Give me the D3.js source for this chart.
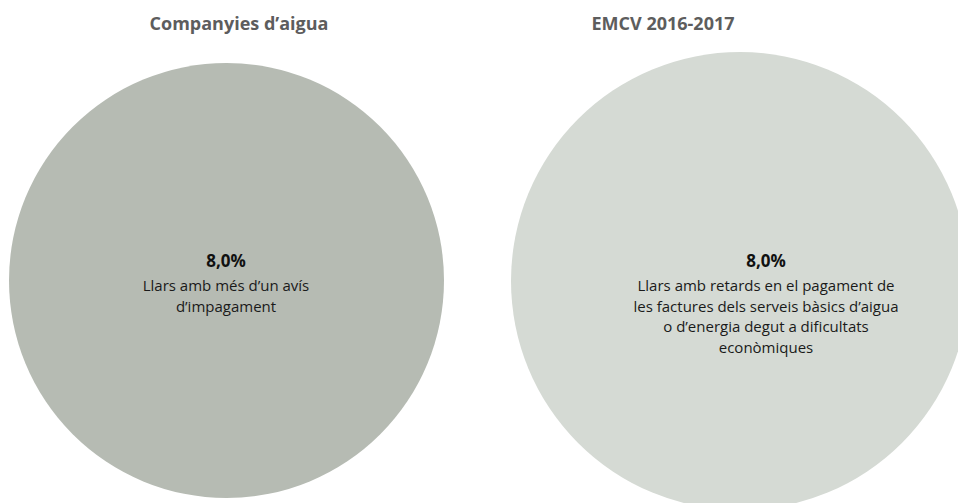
<!DOCTYPE html>
<html>
<head>
<meta charset="utf-8">
<script src="https://cdn.jsdelivr.net/npm/d3@7"></script>
<style>
  body { margin: 0; background: #fff; }
  svg { display: block; }
</style>
</head>
<body>
<svg id="chart" width="958" height="503"></svg>
<script>
// chart data
const titles = ['Companyies d\u2019aigua', 'EMCV 2016-2017'];
const values = [8.0, 8.0];
const valueLabels = ['8,0%', '8,0%'];
const descriptions = [
  ['Llars amb més d\u2019un avís', 'd\u2019impagament'],
  ['Llars amb retards en el pagament de', 'les factures dels serveis bàsics d\u2019aigua', 'o d\u2019energia degut a dificultats', 'econòmiques']
];
const fills = ['#b6bbb3', '#d5dad4'];

// each panel is laid out on its own, like the two separate charts in the original
const panels = [
  { cx: 226.5, cy: 280.5, rMax: 217.5, titleX: 239, textX: 226 },
  { cx: 740, cy: 281, rMax: 229, textX: 766, titleX: 663 }
];

var svg = d3.select('#chart');

panels.forEach(function(p, i) {
  var r = d3.scaleSqrt().domain([0, d3.max(values)]).range([0, p.rMax]);
  var g = svg.append('g');

  g.append('circle')
    .attr('cx', p.cx)
    .attr('cy', p.cy)
    .attr('r', r(values[i]))
    .attr('fill', fills[i]);

  g.append('text')
    .attr('x', p.titleX)
    .attr('y', 30)
    .attr('text-anchor', 'middle')
    .attr('font-family', 'Open Sans, sans-serif')
    .attr('font-weight', 'bold')
    .attr('font-size', 18)
    .attr('fill', '#5d5d5d')
    .text(titles[i]);

  g.append('text')
    .attr('x', p.textX)
    .attr('y', 267)
    .attr('text-anchor', 'middle')
    .attr('font-family', 'Open Sans, sans-serif')
    .attr('font-weight', 'bold')
    .attr('font-size', 17)
    .attr('fill', '#111')
    .text(valueLabels[i]);

  g.selectAll('text.desc')
    .data(descriptions[i])
    .join('text')
    .attr('class', 'desc')
    .attr('x', p.textX)
    .attr('y', function(d, j) { return 291 + j * 20.5; })
    .attr('text-anchor', 'middle')
    .attr('font-family', 'Open Sans, sans-serif')
    .attr('font-size', 15)
    .attr('fill', '#1a1a1a')
    .text(function(d) { return d; });
});
</script>
</body>
</html>
